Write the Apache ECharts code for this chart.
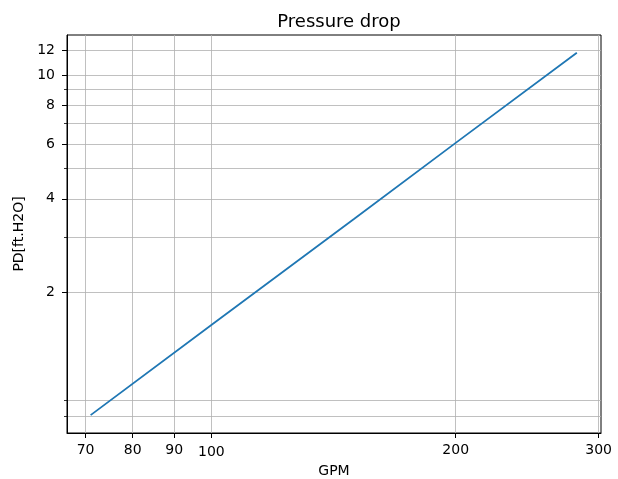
<!DOCTYPE html>
<html>
<head>
<meta charset="utf-8">
<script src="https://cdn.jsdelivr.net/npm/echarts@6/dist/echarts.min.js"></script>
<style>
html,body{margin:0;padding:0;background:#fff;}
#c{width:618px;height:479px;}
</style>
</head>
<body>
<div id="c"></div>
<script>
// Data
const gpm = [71, 100, 150, 200, 282];
const pd = [0.806, 1.57, 3.45, 6.05, 11.8];
const xTicks = [70, 80, 90, 100, 200, 300];
const yMajorTicks = [2, 4, 6, 8, 10, 12];
const yMinorTicks = [0.8, 0.9, 3, 5, 7, 9];

const FONT = 'DejaVu Sans';
const grid = '#b0b0b0';

const chart = echarts.init(document.getElementById('c'), null, {renderer: 'canvas'});
chart.setOption({
  animation: false,
  backgroundColor: '#fff',
  title: {
    text: 'Pressure drop',
    left: 334, top: 8, textAlign: 'center',
    textStyle: {fontFamily: FONT, fontSize: 18, fontWeight: 'normal', color: '#000'}
  },
  grid: {left: 67, right: 17, top: 35, bottom: 46, show: true, borderColor: '#000', borderWidth: 1,
    backgroundColor: 'transparent', containLabel: false, outerBoundsMode: 'none'},
  xAxis: {
    type: 'log', logBase: 10, min: 66.4, max: 302,
    name: 'GPM', nameLocation: 'middle', nameGap: 31,
    nameTextStyle: {fontFamily: FONT, fontSize: 14, color: '#000'},
    axisLine: {show: true, lineStyle: {color: '#000', width: 1}},
    axisTick: {show: true, length: 5, lineStyle: {color: '#000', width: 1}, customValues: xTicks},
    axisLabel: {customValues: xTicks, fontFamily: FONT, fontSize: 14, color: '#000', margin: 10,
      formatter: v => {
        const s = String(Math.round(v));
        return s === '100' ? '{m|' + s + '}' : s;
      },
      rich: {m: {fontFamily: FONT, fontSize: 14, color: '#000', padding: [2, 0, 0, 0]}}
    },
    splitLine: {show: true, lineStyle: {color: grid, width: 0.8}},
    minorTick: {show: false}, minorSplitLine: {show: false}
  },
  yAxis: [{
    type: 'log', logBase: 10, min: 0.706, max: 13.45,
    name: 'PD[ft.H2O]', nameLocation: 'middle', nameGap: 34, nameRotate: 90,
    nameTextStyle: {fontFamily: FONT, fontSize: 14, color: '#000'},
    axisLine: {show: true, lineStyle: {color: '#000', width: 1}},
    axisTick: {show: true, length: 5, lineStyle: {color: '#000', width: 1}, customValues: yMajorTicks},
    axisLabel: {customValues: yMajorTicks, fontFamily: FONT, fontSize: 14, color: '#000', margin: 12,
      formatter: v => String(Math.round(v))},
    splitLine: {show: true, lineStyle: {color: grid, width: 0.8}},
    minorTick: {show: false}, minorSplitLine: {show: false}
  }, {
    type: 'log', logBase: 10, min: 0.706, max: 13.45, position: 'left',
    axisLine: {show: false},
    axisTick: {show: true, length: 3, lineStyle: {color: '#000', width: 0.8}, customValues: yMinorTicks},
    axisLabel: {show: false, customValues: yMinorTicks},
    splitLine: {show: true, lineStyle: {color: grid, width: 0.8}},
    minorTick: {show: false}, minorSplitLine: {show: false}
  }],
  series: [{
    type: 'line',
    data: gpm.map((x, i) => [x, pd[i]]),
    showSymbol: false, symbol: 'none',
    lineStyle: {color: '#1f77b4', width: 1.8},
    z: 5
  }]
});
</script>
</body>
</html>
